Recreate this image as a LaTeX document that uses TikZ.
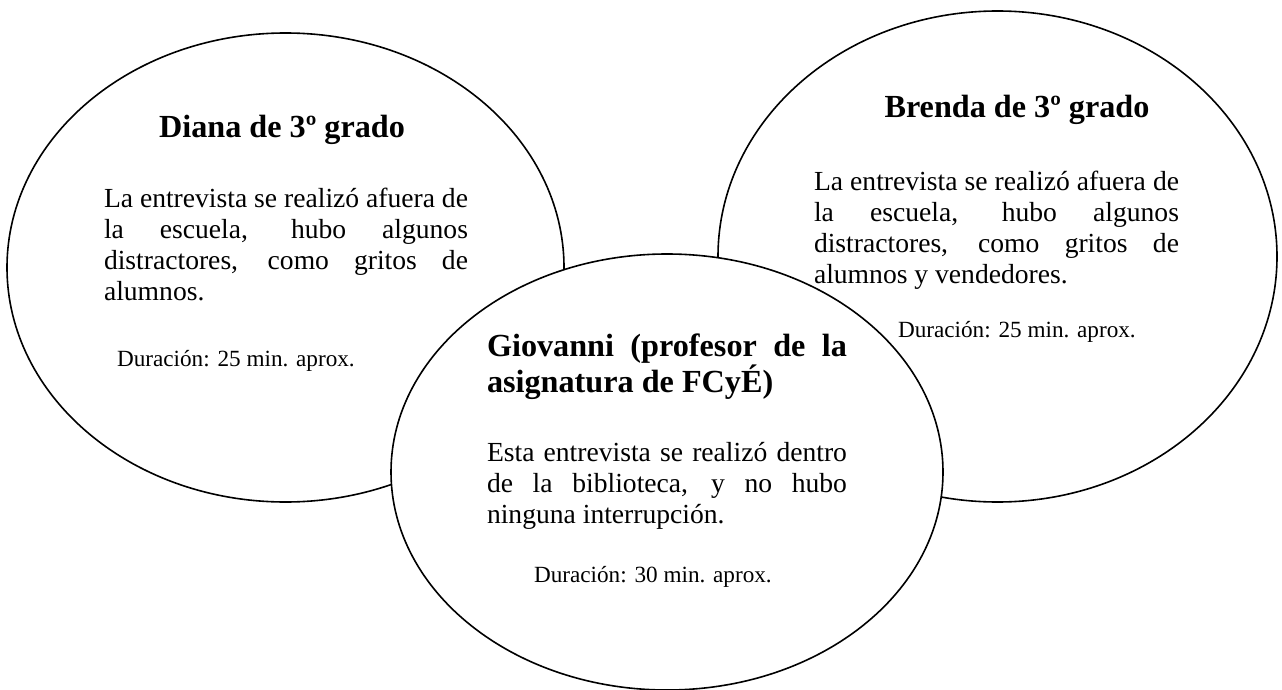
\documentclass[tikz,border=0pt]{standalone}
\usepackage{fontspec}
\setmainfont{Liberation Serif}
\usetikzlibrary{shapes.geometric}
\newlength{\blockw}
\newcommand{\jline}[1]{\hbox{\makebox[\blockw][s]{#1}}}
\newcommand{\lastline}[1]{\hbox{#1}}
\newcommand{\bodyfont}{\fontsize{27.6}{31}\selectfont}
\newcommand{\titlefont}{\fontsize{32.2}{36}\selectfont\bfseries}
\newcommand{\durfont}{\fontsize{23.2}{26.5}\selectfont}
\tikzset{
  oval/.style={draw=black, line width=1.6pt, ellipse, inner sep=0pt, fill=white},
  txt/.style={inner sep=0pt, outer sep=0pt, text=black}
}
\begin{document}
\begin{tikzpicture}[x=1pt,y=-1pt]
\useasboundingbox (0,0) rectangle (1282,690);
\fill[white] (0,0) rectangle (1282,690);
% left ellipse
\node[oval, minimum width=557pt, minimum height=469pt] (diana) at (285.5,267.5) {};
\node[txt, anchor=base] (dianat) at (282,138) {\titlefont Diana de 3º grado};
\node[txt, anchor=base west] (dianab) at (104,207) {\bodyfont\setlength{\blockw}{364pt}\vtop{%
  \jline{La entrevista se realizó afuera de}
  \jline{la escuela, hubo algunos}
  \jline{distractores, como gritos de}
  \lastline{alumnos.}}};
\node[txt, anchor=base west] (dianad) at (117,366) {\durfont Duración: 25 min. aprox.};
% right ellipse
\node[oval, minimum width=559pt, minimum height=491pt] (brenda) at (997.5,256.5) {};
\node[txt, anchor=base] (brendat) at (1017,118) {\titlefont Brenda de 3º grado};
\node[txt, anchor=base west] (brendab) at (814,190) {\bodyfont\setlength{\blockw}{365pt}\vtop{%
  \jline{La entrevista se realizó afuera de}
  \jline{la escuela, hubo algunos}
  \jline{distractores, como gritos de}
  \lastline{alumnos y vendedores.}}};
\node[txt, anchor=base west] (brendad) at (898,337) {\durfont Duración: 25 min. aprox.};
% middle ellipse
\node[oval, minimum width=552pt, minimum height=436pt] (giovanni) at (667,472) {};
\node[txt, anchor=base west] (giovannit) at (487,356) {\titlefont\setlength{\blockw}{360pt}\vtop{%
  \jline{Giovanni (profesor de la}
  \lastline{asignatura de FCyÉ)}}};
\node[txt, anchor=base west] (giovannib) at (487,461) {\bodyfont\setlength{\blockw}{360pt}\vtop{%
  \jline{Esta entrevista se realizó dentro}
  \jline{de la biblioteca, y no hubo}
  \lastline{ninguna interrupción.}}};
\node[txt, anchor=base west] (giovannid) at (534,582) {\durfont Duración: 30 min. aprox.};
\end{tikzpicture}
\end{document}
